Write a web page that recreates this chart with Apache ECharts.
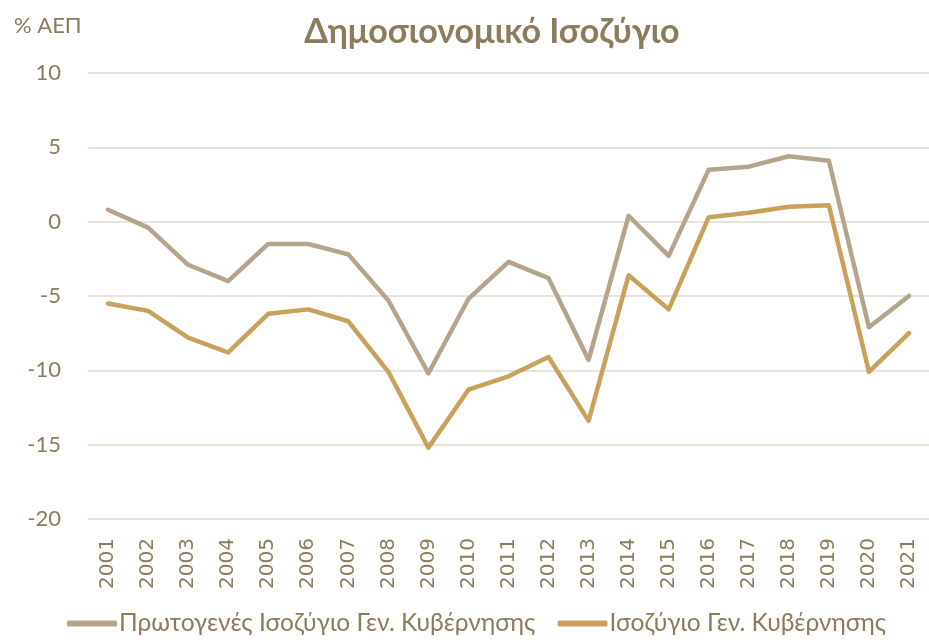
<!DOCTYPE html>
<html lang="el">
<head>
    <meta charset="UTF-8">
    <title>Δημοσιονομικό Ισοζύγιο</title>
    <script src="https://cdn.jsdelivr.net/npm/echarts@6/dist/echarts.min.js"></script>
    <style>
        html, body { margin: 0; padding: 0; background: #fff; }
    </style>
</head>
<body>
    <div id="main" style="width: 929px; height: 642px;"></div>
    <script>
        var years = ['2001', '2002', '2003', '2004', '2005', '2006', '2007', '2008', '2009', '2010', '2011',
            '2012', '2013', '2014', '2015', '2016', '2017', '2018', '2019', '2020', '2021'];
        var primaryBalance = [0.8, -0.4, -2.9, -4.0, -1.5, -1.5, -2.2, -5.3, -10.2, -5.2, -2.7,
            -3.8, -9.3, 0.4, -2.3, 3.5, 3.7, 4.4, 4.1, -7.1, -5.0];
        var generalBalance = [-5.5, -6.0, -7.8, -8.8, -6.2, -5.9, -6.7, -10.1, -15.2, -11.3, -10.4,
            -9.1, -13.4, -3.6, -5.9, 0.3, 0.6, 1.0, 1.1, -10.1, -7.5];
        var seriesNames = ['Πρωτογενές Ισοζύγιο Γεν. Κυβέρνησης', 'Ισοζύγιο Γεν. Κυβέρνησης'];

        var textColor = '#8b7c5b';
        var uiFont = 'Lato, "Open Sans", sans-serif';

        var myChart = echarts.init(document.getElementById('main'));
        var option = {
            backgroundColor: '#fff',
            animation: false,
            color: ['#b5a48b', '#c9a15b'],
            title: {
                text: 'Δημοσιονομικό Ισοζύγιο',
                left: 487,
                textAlign: 'center',
                top: 10,
                textStyle: {
                    color: '#8a7c5c',
                    fontFamily: uiFont,
                    fontWeight: 'bold',
                    fontSize: 34
                }
            },
            legend: {
                bottom: 1,
                left: 62,
                itemWidth: 50,
                itemHeight: 6,
                itemGap: 22,
                icon: 'roundRect',
                data: seriesNames,
                textStyle: {
                    color: textColor,
                    fontFamily: uiFont,
                    fontSize: 24.5,
                    padding: [0, 0, 0, -3]
                }
            },
            grid: {
                left: 88,
                right: 0,
                top: 73,
                bottom: 123
            },
            xAxis: {
                type: 'category',
                data: years,
                boundaryGap: true,
                axisLine: {show: false},
                axisTick: {show: false},
                axisLabel: {
                    rotate: 90,
                    margin: 19,
                    color: textColor,
                    fontFamily: 'DejaVu Sans',
                    fontSize: 20
                }
            },
            yAxis: {
                type: 'value',
                min: -20,
                max: 10,
                interval: 5,
                name: '% ΑΕΠ',
                nameLocation: 'end',
                nameGap: 36,
                nameTextStyle: {
                    color: textColor,
                    fontFamily: uiFont,
                    fontSize: 22,
                    align: 'left',
                    padding: [0, 0, 0, -74]
                },
                axisLine: {show: false},
                axisTick: {show: false},
                axisLabel: {
                    margin: 27,
                    color: textColor,
                    fontFamily: uiFont,
                    fontSize: 22
                },
                splitLine: {
                    lineStyle: {color: '#e8e4dc', width: 2}
                }
            },
            series: [
                {
                    name: seriesNames[0],
                    type: 'line',
                    data: primaryBalance,
                    symbol: 'none',
                    lineStyle: {width: 4.5, cap: 'round', join: 'round'}
                },
                {
                    name: seriesNames[1],
                    type: 'line',
                    data: generalBalance,
                    symbol: 'none',
                    lineStyle: {width: 4.5, cap: 'round', join: 'round'}
                }
            ]
        };
        myChart.setOption(option);
    </script>
</body>
</html>
